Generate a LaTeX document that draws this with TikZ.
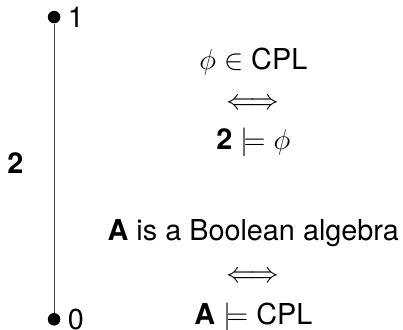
\documentclass[tikz,border=0pt]{standalone}
\usepackage{amsmath,amssymb}
\usepackage[no-math]{fontspec}
\setmainfont{TeX Gyre Heros}
\usepackage{tikz}
\usetikzlibrary{positioning}

\tikzset{
	elem/.style={circle, fill=black, inner sep=0pt, minimum size=2.2mm},
	stack/.style={align=center, font=\Large}
}

\begin{document}
\begin{tikzpicture}
		\useasboundingbox (0,0) rectangle (7.08,5.78);

		% the two-element algebra
		\node[elem] (one) at (0.95,5.48) {};
		\node[elem] (zero) at (0.95,0.17) {};
		\draw[thin, black!75] (one) -- (zero);

		\node[right=0pt of one, font=\Large] (onelab) {1};
		\node[right=0pt of zero, font=\Large] (zerolab) {0};
		\node[font=\Large] (two) at (0.27,2.92) {\textbf{2}};

		% the two equivalences
		\node[stack] (top) at (4.45,3.99) {$\phi\in$ CPL\\[2pt] $\iff$\\[2pt] \textbf{2} $\models\phi$};

		\node[stack] (bottom) at (4.45,0.93) {\textbf{A} is a Boolean algebra\\[3pt] $\iff$\\[3pt] \textbf{A} $\models$ CPL};
	\end{tikzpicture}
\end{document}
